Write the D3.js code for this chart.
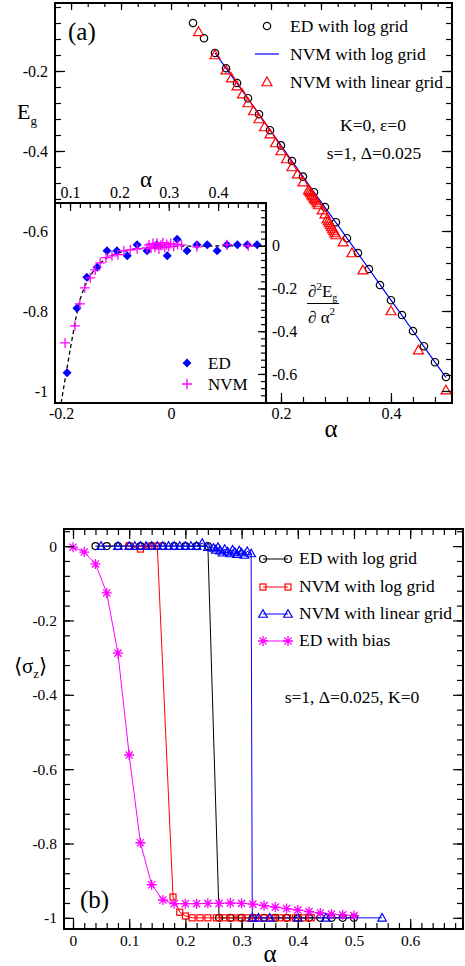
<!DOCTYPE html>
<html>
<head>
<meta charset="UTF-8">
<style>
  body { margin: 0; background: #fff; }
  svg { display: block; font-family: "Liberation Serif", "Times New Roman", serif; }
</style>
</head>
<body>
<svg></svg>
<script src="https://d3js.org/d3.v7.min.js"></script>
<script>

let width = 465, height = 966;
let serif = "'Liberation Serif', 'Times New Roman', serif";

let svg = d3.select("svg")
    .attr("width", width)
    .attr("height", height);

// ---------- panel (a) data ----------
let edAlpha = [0.04,0.06,0.08,0.10,0.12,0.14,0.16,0.18,0.20,0.22,0.24,0.26,0.28,0.30,0.32,0.34,0.36,0.38,0.40,0.42,0.44,0.46,0.48,0.50];
let edEg = [-0.080,-0.118,-0.155,-0.193,-0.230,-0.268,-0.308,-0.348,-0.386,-0.425,-0.464,-0.503,-0.540,-0.578,-0.618,-0.655,-0.695,-0.735,-0.773,-0.810,-0.850,-0.888,-0.928,-0.965];

let nvmLogAlpha = [0.08,0.10,0.12,0.14,0.16,0.18,0.20,0.22,0.24,0.26,0.28,0.30,0.32,0.34,0.36,0.38,0.40,0.42,0.44,0.46,0.48,0.50];
let nvmLogEg = [-0.155,-0.193,-0.231,-0.269,-0.308,-0.347,-0.386,-0.425,-0.464,-0.503,-0.541,-0.579,-0.618,-0.656,-0.695,-0.734,-0.773,-0.811,-0.850,-0.889,-0.928,-0.966];

let nvmLinAlpha = [0.05,0.08,0.10,0.11,0.12,0.13,0.14,0.15,0.16,0.17,0.18,0.19,0.20,0.21,0.22,0.23,0.24,0.25,
    0.252,0.254,0.256,0.258,0.260,0.262,0.264,0.266,0.268,0.275,0.280,
    0.284,0.286,0.288,0.290,0.292,0.294,0.296,0.298,0.300,0.313,0.329,0.349,0.40,0.45,0.50];
let nvmLinEg = [-0.102,-0.160,-0.198,-0.218,-0.238,-0.258,-0.280,-0.300,-0.320,-0.340,-0.358,-0.380,-0.400,-0.420,-0.440,-0.458,-0.478,-0.498,
    -0.501,-0.505,-0.510,-0.513,-0.518,-0.521,-0.525,-0.530,-0.535,-0.548,-0.558,
    -0.570,-0.575,-0.580,-0.585,-0.590,-0.595,-0.600,-0.605,-0.610,-0.628,-0.655,-0.698,-0.800,-0.898,-0.998];

// inset: second derivative
let insEdAlpha = [0.094,0.114,0.134,0.155,0.175,0.195,0.216,0.236,0.256,0.276,0.297,0.317,0.337,0.357,0.378,0.398,0.418,0.439,0.459,0.479];
let insEdD2 = [-0.595,-0.293,-0.148,-0.101,-0.023,-0.023,-0.047,0.005,-0.023,0.005,-0.047,0.030,-0.023,0.005,0.005,-0.023,0.005,0.005,0.005,0.005];

let insNvmAlpha = [0.090,0.110,0.120,0.130,0.141,0.151,0.161,0.173,0.185,0.197,0.209,0.222,0.236,
    0.256,0.260,0.264,0.268,0.272,0.276,0.280,0.284,0.288,0.292,0.296,0.300,0.304,0.310,0.318,0.326,0.357,0.418,0.461];
let insNvmD2 = [-0.455,-0.375,-0.272,-0.197,-0.150,-0.113,-0.080,-0.056,-0.047,-0.042,-0.023,-0.019,-0.014,
    -0.010,0.004,-0.012,0.010,-0.006,0.012,-0.015,0.002,0.014,-0.008,0.006,-0.004,0.010,-0.002,0.006,0.004,-0.005,0.005,0.000];

let insFitAlpha = [0.082,0.088,0.094,0.102,0.112,0.120,0.130,0.141,0.155,0.171,0.191,0.222,0.262,0.323,0.497];
let insFitD2 = [-0.736,-0.652,-0.572,-0.464,-0.338,-0.253,-0.188,-0.141,-0.094,-0.061,-0.038,-0.019,-0.009,-0.002,0.000];

// ---------- panel (b) data ----------
let bEdAlpha = [0.04,0.06,0.08,0.10,0.12,0.14,0.16,0.18,0.20,0.22,0.24,0.26,0.28,0.30,0.32,0.34,0.36,0.38,0.40,0.42,0.44,0.46,0.48,0.50];
let bEdSz = [0,0,0,0,0,0,0,0,0,0,0,-1,-1,-1,-1,-1,-1,-1,-1,-1,-1,-1,-1,-1];

let bNvmLogAlpha = [0.10,0.12,0.135,0.15,0.178,0.19,0.20,0.212,0.226,0.240,0.255,0.269,0.283,0.297,0.311,0.325,0.340,0.354,0.368,0.382,0.396,0.410,0.424];
let bNvmLogSz = [0,-0.008,0,0,-0.944,-0.985,-0.995,-1,-1,-1,-1,-1,-1,-1,-1,-1,-1,-1,-1,-1,-1,-1,-1];

let bNvmLinAlpha = [0.05,0.08,0.10,0.11,0.12,0.13,0.14,0.15,0.16,0.17,0.18,0.19,0.20,0.21,0.22,0.23,0.24,0.25,
    0.254,0.258,0.262,0.266,0.270,0.275,0.280,0.284,0.288,0.292,0.296,0.300,0.305,0.310,0.317,0.319,0.33,0.35,0.40,0.45,0.55];
let bNvmLinSz = [0,0,0,0,0,0,0,0,0,0,0,0,0,0,0,0.008,-0.003,-0.005,
    -0.010,-0.003,-0.012,-0.018,-0.008,-0.015,-0.020,-0.010,-0.016,-0.022,-0.012,-0.018,-0.024,-0.014,-0.020,-1,-1,-1,-1,-1,-1];

let bBiasAlpha = [0,0.02,0.04,0.06,0.08,0.10,0.12,0.14,0.16,0.18,0.20,0.22,0.24,0.26,0.28,0.30,0.32,0.34,0.36,0.38,0.40,0.42,0.44,0.46,0.48,0.50];
let bBiasSz = [-0.003,-0.016,-0.048,-0.126,-0.288,-0.562,-0.798,-0.911,-0.952,-0.962,-0.962,-0.962,-0.961,-0.961,-0.960,-0.961,-0.963,-0.967,-0.971,-0.975,-0.979,-0.983,-0.987,-0.990,-0.992,-0.994];

// tick values
let aLeftMajor = [-1,-0.8,-0.6,-0.4,-0.2];
let aBottomMajor = [-0.2,0,0.2,0.4];
let insTopMajor = [0.1,0.2,0.3,0.4];
let insRightMajor = [0,-0.2,-0.4,-0.6];
let bLeftMajor = [-1,-0.8,-0.6,-0.4,-0.2,0];
let bBottomMajor = [0,0.1,0.2,0.3,0.4,0.5,0.6];

let zip = (xs, ys) => xs.map((x, i) => [x, ys[i]]);

// ---------- scales ----------
let xA = d3.scaleLinear().domain([-0.211, 0.511]).range([55, 452]);
let yA = d3.scaleLinear().domain([-1.03, -0.03]).range([403, 3]);
let xI = d3.scaleLinear().domain([0.0696, 0.497]).range([55, 266]);
let yI = d3.scaleLinear().domain([-0.736, 0.2]).range([403, 203]);
let xB = d3.scaleLinear().domain([-0.016, 0.694]).range([64, 463]);
let yB = d3.scaleLinear().domain([-1.03, 0.046]).range([929, 529]);

let fmt = d => String(+d.toFixed(2));

// ---------- markers ----------
function marker(sel, type, color, s) {
    if (type === "circle") {
        sel.append("circle").attr("r", s).attr("fill", "none").attr("stroke", color).attr("stroke-width", 1.2);
    } else if (type === "triangle") {
        sel.append("path").attr("d", `M0,${-s} L${s},${s*0.75} L${-s},${s*0.75} Z`)
            .attr("fill", "none").attr("stroke", color).attr("stroke-width", 1.2);
    } else if (type === "square") {
        sel.append("rect").attr("x", -s).attr("y", -s).attr("width", 2*s).attr("height", 2*s)
            .attr("fill", "none").attr("stroke", color).attr("stroke-width", 1.2);
    } else if (type === "diamond") {
        sel.append("path").attr("d", `M0,${-s} L${s},0 L0,${s} L${-s},0 Z`).attr("fill", color);
    } else if (type === "plus") {
        sel.append("path").attr("d", `M${-s},0 H${s} M0,${-s} V${s}`).attr("stroke", color).attr("stroke-width", 1.3);
    } else if (type === "star") {
        let c = s * 0.72;
        sel.append("path").attr("d", `M${-s},0 H${s} M0,${-s} V${s} M${-c},${-c} L${c},${c} M${-c},${c} L${c},${-c}`)
            .attr("stroke", color).attr("stroke-width", 1.3);
    }
}

function drawPoints(g, pts, xs, ys, type, color, s) {
    g.append("g").selectAll("g")
        .data(pts)
        .enter()
        .append("g")
        .attr("transform", d => `translate(${xs(d[0])},${ys(d[1])})`)
        .each(function() { marker(d3.select(this), type, color, s); });
}

function drawLine(g, pts, xs, ys, color, w, dash) {
    g.append("path")
        .datum(pts)
        .attr("fill", "none")
        .attr("stroke", color)
        .attr("stroke-width", w)
        .attr("stroke-dasharray", dash || null)
        .attr("d", d3.line().x(d => xs(d[0])).y(d => ys(d[1])));
}

// inward ticks: minor + major (optionally labelled)
function ticks(g, scale, orient, major, minor, bigLen, smallLen, pad, showLabels, fsize, translate) {
    let make = {left: d3.axisLeft, right: d3.axisRight, top: d3.axisTop, bottom: d3.axisBottom}[orient];
    let gMin = g.append("g").attr("transform", translate)
        .call(make(scale).tickValues(minor).tickSize(-smallLen).tickFormat(""));
    gMin.select(".domain").remove();
    let gMaj = g.append("g").attr("transform", translate)
        .call(make(scale).tickValues(major).tickSize(-bigLen).tickPadding(pad)
            .tickFormat(showLabels ? fmt : ""));
    gMaj.select(".domain").remove();
    [gMin, gMaj].forEach(s => {
        s.attr("font-family", serif).attr("font-size", fsize);
        s.selectAll("line").attr("stroke", "#000").attr("stroke-width", 1.2);
        s.selectAll("text").attr("fill", "#000");
    });
}

function rangeStep(a, b, st) {
    let out = [];
    for (let v = a; v <= b + 1e-9; v += st) out.push(+v.toFixed(4));
    return out;
}

// ================= PANEL (a) =================
let ga = svg.append("g");
ga.append("rect").attr("x", 55).attr("y", 3).attr("width", 397).attr("height", 400).attr("fill", "#fff");

let aData = ga.append("g");
drawLine(aData, zip(nvmLogAlpha, nvmLogEg), xA, yA, "#0000ff", 1.2);
drawPoints(aData, zip(edAlpha, edEg), xA, yA, "circle", "#000", 3.7);
drawPoints(aData, zip(nvmLinAlpha, nvmLinEg), xA, yA, "triangle", "#ff0000", 5);

// main top & right axes
ticks(ga, xA, "top", rangeStep(-6, 16, 1).filter(k => k % 3 === 0).map(k => k / 33),
      rangeStep(-6, 16, 1).map(k => k / 33), 7, 4, 4, false, 16, "translate(0,3)");
ticks(ga, yA, "right", aLeftMajor, rangeStep(-1.0, -0.04, 0.04), 10, 6, 4, false, 16, "translate(452,0)");

// ---- inset ----
let gi = svg.append("g");
gi.append("rect").attr("x", 55).attr("y", 203).attr("width", 211).attr("height", 200).attr("fill", "#fff");
gi.append("clipPath").attr("id", "insclip")
    .append("rect").attr("x", 55).attr("y", 203).attr("width", 211).attr("height", 200);
let iData = gi.append("g").attr("clip-path", "url(#insclip)");
drawLine(iData, zip(insFitAlpha, insFitD2), xI, yI, "#000", 1.3, "4,3");
drawPoints(iData, zip(insEdAlpha, insEdD2), xI, yI, "diamond", "#0000ff", 4.5);
drawPoints(iData, zip(insNvmAlpha, insNvmD2), xI, yI, "plus", "#ff00ff", 5);

ticks(gi, xI, "top", insTopMajor, rangeStep(0.08, 0.48, 0.02), 8, 5, 5, true, 16, "translate(0,203)");
ticks(gi, yI, "right", insRightMajor, rangeStep(-0.7333, 0.2, 0.03333), 8, 5, 6, true, 16, "translate(266,0)");
gi.append("rect").attr("x", 55).attr("y", 203).attr("width", 211).attr("height", 200)
    .attr("fill", "none").attr("stroke", "#000").attr("stroke-width", 2);

// inset legend
let il = gi.append("g");
il.append("g").attr("transform", "translate(187,363)").each(function() { marker(d3.select(this), "diamond", "#0000ff", 4.5); });
il.append("g").attr("transform", "translate(187,384)").each(function() { marker(d3.select(this), "plus", "#ff00ff", 5); });
il.append("text").attr("x", 208).attr("y", 369).attr("font-size", 17).text("ED");
il.append("text").attr("x", 208).attr("y", 390).attr("font-size", 17).text("NVM");

// inset axis titles
gi.append("text").attr("x", 146).attr("y", 187).attr("text-anchor", "middle").attr("font-size", 23).text("α");
let num = gi.append("text").attr("x", 308).attr("y", 297).attr("font-size", 17);
num.append("tspan").text("∂");
num.append("tspan").attr("font-size", 11).attr("dy", -7).text("2");
num.append("tspan").attr("dy", 7).text("E");
num.append("tspan").attr("font-size", 10).attr("dy", 4).text("g");
gi.append("line").attr("x1", 307).attr("x2", 339).attr("y1", 303.5).attr("y2", 303.5).attr("stroke", "#000").attr("stroke-width", 1);
let den = gi.append("text").attr("x", 308).attr("y", 323).attr("font-size", 17);
den.append("tspan").text("∂ α");
den.append("tspan").attr("font-size", 11).attr("dy", -8).text("2");

// main left & bottom axes (drawn over the inset)
ticks(ga, yA, "left", aLeftMajor, rangeStep(-1.0, -0.04, 0.04), 10, 6, 7, true, 16, "translate(55,0)");
ticks(ga, xA, "bottom", aBottomMajor, rangeStep(-0.2, 0.48, 0.04), 10, 6, 5, true, 16, "translate(0,403)");
svg.append("rect").attr("x", 55).attr("y", 3).attr("width", 397).attr("height", 400)
    .attr("fill", "none").attr("stroke", "#000").attr("stroke-width", 2);

// legend (a)
let la = svg.append("g").attr("font-size", 17.5);
la.append("g").attr("transform", "translate(267,26)").each(function() { marker(d3.select(this), "circle", "#000", 3.7); });
la.append("line").attr("x1", 255).attr("x2", 279).attr("y1", 54).attr("y2", 54).attr("stroke", "#0000ff").attr("stroke-width", 1.2);
la.append("g").attr("transform", "translate(267,82)").each(function() { marker(d3.select(this), "triangle", "#ff0000", 5); });
la.append("text").attr("x", 290).attr("y", 32).text("ED with log grid");
la.append("text").attr("x", 290).attr("y", 60).text("NVM with log grid");
la.append("text").attr("x", 290).attr("y", 88).text("NVM with linear grid");
la.append("text").attr("x", 373).attr("y", 131).attr("text-anchor", "middle").text("K=0, ε=0");
la.append("text").attr("x", 374).attr("y", 159).attr("text-anchor", "middle").text("s=1, Δ=0.025");

svg.append("text").attr("x", 68).attr("y", 40).attr("font-size", 25).text("(a)");
let eg = svg.append("text").attr("x", 17).attr("y", 119).attr("font-size", 22);
eg.append("tspan").text("E");
eg.append("tspan").attr("font-size", 13).attr("dy", 6).text("g");
svg.append("text").attr("x", 331).attr("y", 437).attr("text-anchor", "middle").attr("font-size", 25).text("α");

// ================= PANEL (b) =================
let gb = svg.append("g");
gb.append("rect").attr("x", 64).attr("y", 529).attr("width", 399).attr("height", 400).attr("fill", "#fff");

let bData = gb.append("g");
drawLine(bData, zip(bEdAlpha, bEdSz), xB, yB, "#000", 1);
drawLine(bData, zip(bNvmLogAlpha, bNvmLogSz), xB, yB, "#ff0000", 1);
drawLine(bData, zip(bNvmLinAlpha, bNvmLinSz), xB, yB, "#0000ff", 1);
drawLine(bData, zip(bBiasAlpha, bBiasSz), xB, yB, "#ff00ff", 1);
drawPoints(bData, zip(bEdAlpha, bEdSz), xB, yB, "circle", "#000", 3.5);
drawPoints(bData, zip(bNvmLogAlpha, bNvmLogSz), xB, yB, "square", "#ff0000", 3);
drawPoints(bData, zip(bNvmLinAlpha, bNvmLinSz), xB, yB, "triangle", "#0000ff", 4.3);
drawPoints(bData, zip(bBiasAlpha, bBiasSz), xB, yB, "star", "#ff00ff", 5);

ticks(gb, yB, "left", bLeftMajor, rangeStep(-1.0, 0.04, 0.04), 10, 6, 7, true, 15.5, "translate(64,0)");
ticks(gb, yB, "right", bLeftMajor, rangeStep(-1.0, 0.04, 0.04), 10, 6, 7, false, 15.5, "translate(463,0)");
ticks(gb, xB, "bottom", bBottomMajor, rangeStep(0, 0.68, 0.02), 10, 6, 6, true, 15.5, "translate(0,929)");
ticks(gb, xB, "top", bBottomMajor, rangeStep(0, 0.68, 0.02), 10, 6, 6, false, 15.5, "translate(0,529)");
gb.append("rect").attr("x", 64).attr("y", 529).attr("width", 399).attr("height", 400)
    .attr("fill", "none").attr("stroke", "#000").attr("stroke-width", 2);

// legend (b)
let lb = gb.append("g").attr("font-size", 17.5);
let bLegend = [
    ["ED with log grid", "circle", "#000", 3.5, 559],
    ["NVM with log grid", "square", "#ff0000", 3, 587],
    ["NVM with linear grid", "triangle", "#0000ff", 4.3, 614],
    ["ED with bias", "star", "#ff00ff", 5, 641]
];
bLegend.forEach(r => {
    lb.append("line").attr("x1", 263).attr("x2", 288).attr("y1", r[4]).attr("y2", r[4]).attr("stroke", r[2]).attr("stroke-width", 1);
    [263, 288].forEach(x => lb.append("g").attr("transform", `translate(${x},${r[4]})`)
        .each(function() { marker(d3.select(this), r[1], r[2], r[3]); }));
    lb.append("text").attr("x", 299).attr("y", r[4] + 5).text(r[0]);
});
lb.append("text").attr("x", 352).attr("y", 703).attr("text-anchor", "middle").text("s=1, Δ=0.025, K=0");

svg.append("text").attr("x", 80).attr("y", 908).attr("font-size", 25).text("(b)");
svg.append("text").attr("x", 270).attr("y", 962).attr("text-anchor", "middle").attr("font-size", 25).text("α");
let sz = svg.append("text").attr("x", 14).attr("y", 673).attr("font-size", 21);
sz.append("tspan").text("⟨σ");
sz.append("tspan").attr("font-size", 13).attr("dy", 5).text("z");
sz.append("tspan").attr("dy", -5).text("⟩");

</script>
</body>
</html>
